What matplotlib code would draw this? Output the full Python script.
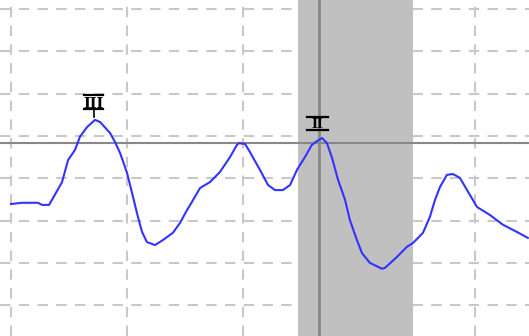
import numpy as np
import matplotlib.pyplot as plt

# signal trace
t = [0, 4.7, 11.6, 13.4, 16.4, 18.1, 22.0, 24.6, 27.6, 29.7, 32.8, 36.2, 38.4,
     42.7, 44.8, 47.0, 50.0, 52.6, 54.7, 56.5, 58.6, 62.1, 65.5, 69.8, 72.8,
     75.9, 78.0, 81.5, 85.8, 90.1, 94.4, 97.4, 98.3, 100.9, 103.0, 107.3,
     110.8, 113.8, 117.2, 120.3, 123.3, 126.7, 129.7, 131.9, 134.1, 136.2,
     138.4, 141.0, 144.0, 146.1, 149.1, 151.3, 154.7, 159.9, 161.2, 166.4,
     170.7, 173.3, 177.6, 180.6, 182.8, 184.9, 187.9, 190.5, 193.5, 196.6,
     200.9, 206.5, 212.1, 218.1, 222.8]
signal = [-16.1, -15.8, -15.8, -16.3, -16.3, -14.7, -10.9, -5.7, -3.3, -0.2,
          2.1, 3.8, 3.3, 0.7, -1.4, -4.0, -8.7, -14.4, -19.1, -22.7, -25.1,
          -25.8, -24.6, -22.9, -20.6, -17.5, -15.6, -12.3, -10.9, -8.5, -5.0,
          -2.1, -1.7, -1.9, -3.8, -8.0, -11.6, -12.8, -12.8, -11.6, -8.0,
          -5.0, -2.1, -1.2, -0.5, -1.7, -5.2, -10.4, -15.1, -19.9, -24.6,
          -27.7, -30.0, -31.4, -31.2, -28.6, -26.2, -25.3, -22.9, -19.1,
          -15.1, -12.1, -9.2, -9.0, -9.9, -12.8, -16.8, -18.7, -21.0, -22.7,
          -24.1]

baseline = -1.65
cursor_t = 132.8
window = (123.7, 173.3)
peak_labels = ['III', 'II']
peak_t = [35.6, 132.1]

fig = plt.figure(figsize=(5.29, 3.36), dpi=100)
ax = fig.add_axes([0, 0, 1, 1])

ax.set_xlim(-4.74, 223.3)
ax.set_ylim(-47.3, 32.15)
ax.set_xticks([0, 50, 100, 150, 200])
ax.set_yticks([-40, -30, -20, -10, 0, 10, 20, 30])
ax.tick_params(length=0, labelbottom=False, labelleft=False)
for s in ax.spines.values():
    s.set_visible(False)
ax.grid(True, color='#c8c8c8', linestyle=(0, (5, 4)), linewidth=1.5, zorder=0)
ax.set_axisbelow(True)

ax.axvspan(window[0], window[1], color='#c0c0c0', zorder=1, lw=0)
ax.axvline(cursor_t, color='#888888', linewidth=2, zorder=2)
ax.axhline(baseline, color='#888888', linewidth=1.5, zorder=2)

ax.plot(t, signal, color='#3333ff', linewidth=1.5, zorder=3)

# peak marks: roman numeral between two bars
x0 = peak_t[0]
ax.text(x0, 6.5, peak_labels[0], ha='center', va='baseline', fontsize=10.5,
        family='DejaVu Serif', fontweight='bold', zorder=4)
ax.plot([x0 - 4.1, x0 + 4.1], [9.7, 9.7], color='black', lw=1.6, zorder=4)
ax.plot([x0 - 4.1, x0 + 4.1], [6.3, 6.3], color='black', lw=1.6, zorder=4)
ax.plot([x0, x0], [6.3, 4.5], color='black', lw=1.2, zorder=4)

x1 = peak_t[1]
ax.text(x1, 1.9, peak_labels[1], ha='center', va='baseline', fontsize=9,
        family='DejaVu Serif', fontweight='bold', zorder=4)
ax.plot([x1 - 4.5, x1 + 4.5], [4.5, 4.5], color='black', lw=1.6, zorder=4)
ax.plot([x1 - 4.5, x1 + 4.5], [1.45, 1.45], color='black', lw=1.6, zorder=4)

fig.savefig('out.png', dpi=100)
